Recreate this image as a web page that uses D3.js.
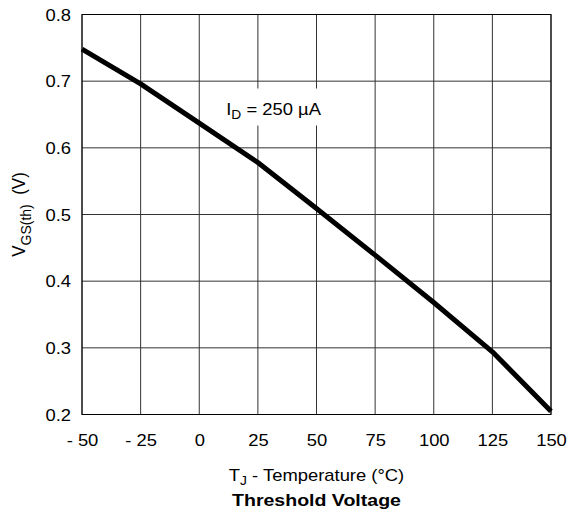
<!DOCTYPE html>
<html>
<head>
<meta charset="utf-8">
<script src="https://cdn.jsdelivr.net/npm/d3@7"></script>
<style>
  body { margin: 0; background: #fff; }
  text { font-family: "Liberation Sans", Arial, sans-serif; fill: #000; }
</style>
</head>
<body>
<div id="chart"></div>
<script>
// threshold voltage vs junction temperature
var temps = [-50, -25, 0, 25, 50, 75, 100, 125, 150];
var vgsth = [0.748, 0.696, 0.637, 0.578, 0.509, 0.439, 0.368, 0.294, 0.205];

var xTicks = [-50, -25, 0, 25, 50, 75, 100, 125, 150];
var xTickLabels = ["- 50", "- 25", "0", "25", "50", "75", "100", "125", "150"];
var yTicks = [0.2, 0.3, 0.4, 0.5, 0.6, 0.7, 0.8];
var yTickLabels = ["0.2", "0.3", "0.4", "0.5", "0.6", "0.7", "0.8"];

var W = 569, H = 514;
var margin = {top: 14.5, right: 18, bottom: 99.5, left: 82},
    width = W - margin.left - margin.right,
    height = H - margin.top - margin.bottom;
var sx = 1.15; // glyphs in the reference are a bit wide

var svg = d3.select("#chart").append("svg")
    .attr("width", W)
    .attr("height", H);

var g = svg.append("g")
    .attr("transform", "translate(" + margin.left + "," + margin.top + ")");

var x = d3.scaleLinear().domain([-50, 150]).range([0, width]);
var y = d3.scaleLinear().domain([0.2, 0.8]).range([height, 0]);

// grid
g.append("g").selectAll("line").data(xTicks).enter().append("line")
    .attr("x1", function(d) { return x(d); })
    .attr("x2", function(d) { return x(d); })
    .attr("y1", 0).attr("y2", height)
    .attr("stroke", "#333").attr("stroke-width", 1);
g.append("g").selectAll("line").data(yTicks).enter().append("line")
    .attr("y1", function(d) { return y(d); })
    .attr("y2", function(d) { return y(d); })
    .attr("x1", 0).attr("x2", width)
    .attr("stroke", "#333").attr("stroke-width", 1);

// axes (labels only)
var xAxis = g.append("g")
    .attr("transform", "translate(0," + height + ")")
    .call(d3.axisBottom(x).tickValues(xTicks).tickSize(0)
      .tickFormat(function(d, i) { return xTickLabels[i]; }));
xAxis.select(".domain").remove();
xAxis.selectAll("text")
    .attr("y", 31.5).attr("dy", 0)
    .attr("transform", "scale(" + sx + ",1)")
    .style("font-size", "16px")
    .style("font-family", "'Liberation Sans', Arial, sans-serif")
    .attr("fill", "#000");

var yAxis = g.append("g")
    .call(d3.axisLeft(y).tickValues(yTicks).tickSize(0)
      .tickFormat(function(d, i) { return yTickLabels[i]; }));
yAxis.select(".domain").remove();
yAxis.selectAll("text")
    .attr("x", -11 / sx).attr("dy", "0.35em")
    .attr("transform", "scale(" + sx + ",1)")
    .style("font-size", "16px")
    .style("font-family", "'Liberation Sans', Arial, sans-serif")
    .attr("fill", "#000");

// label box
var lab = g.append("g");
lab.append("rect")
    .attr("x", x(0) + 18).attr("y", 74)
    .attr("width", 118).attr("height", 37)
    .attr("fill", "#fff");
var lt = lab.append("text")
    .attr("transform", "translate(" + (x(0) + 27) + ",100) scale(" + sx + ",1)")
    .style("font-size", "16px");
lt.append("tspan").text("I");
lt.append("tspan").attr("dy", 4).style("font-size", "12px").text("D");
lt.append("tspan").attr("dy", -4).text(" = 250 \u00b5A");

// curve
var line = d3.line()
    .x(function(d, i) { return x(temps[i]); })
    .y(function(d) { return y(d); });
g.append("path")
    .datum(vgsth)
    .attr("d", line)
    .attr("fill", "none")
    .attr("stroke", "#000")
    .attr("stroke-width", 5)
    .attr("stroke-linejoin", "round");

// frame
g.append("rect")
    .attr("x", 0).attr("y", 0)
    .attr("width", width).attr("height", height)
    .attr("fill", "none").attr("stroke", "#000").attr("stroke-width", 1);

// titles
var xt = svg.append("text")
    .attr("transform", "translate(" + (margin.left + width / 2) + ",480.5) scale(" + sx + ",1)")
    .attr("text-anchor", "middle")
    .style("font-size", "16px");
xt.append("tspan").text("T");
xt.append("tspan").attr("dy", 4).style("font-size", "12px").text("J");
xt.append("tspan").attr("dy", -4).text(" - Temperature (\u00b0C)");

svg.append("text")
    .attr("transform", "translate(" + (margin.left + width / 2) + ",506) scale(" + sx + ",1)")
    .attr("text-anchor", "middle")
    .style("font-size", "17px")
    .style("font-weight", "bold")
    .text("Threshold Voltage");

var yt = svg.append("text")
    .attr("transform", "translate(25," + (margin.top + height / 2) + ") rotate(-90) scale(1,1.1)")
    .attr("text-anchor", "middle")
    .style("font-size", "17px");
yt.append("tspan").text("V");
yt.append("tspan").attr("dy", 5).style("font-size", "14px").text("GS(th)");
yt.append("tspan").attr("dy", -5).text("\u00a0\u00a0(V)");
</script>
</body>
</html>
